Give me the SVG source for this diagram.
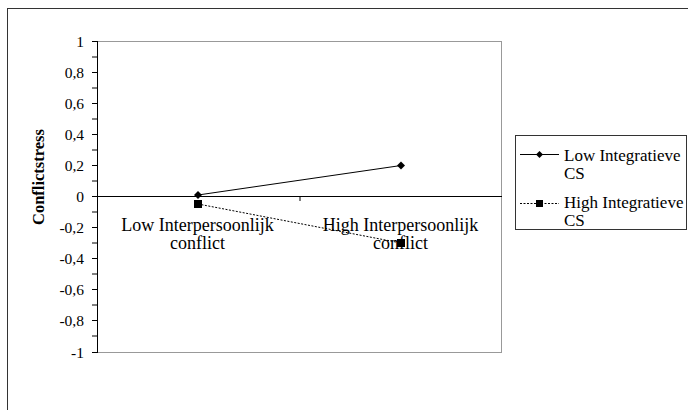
<svg xmlns="http://www.w3.org/2000/svg" width="688" height="410" viewBox="0 0 688 410">
<style>
text{font-family:"Liberation Serif","Times New Roman",serif;fill:#000;}
.tk{font-size:15.5px;text-anchor:end;}
.cat{font-size:18px;text-anchor:middle;}
.lg{font-size:17px;}
.ax{stroke:#000;stroke-width:1;fill:none;}
</style>
<rect x="0" y="0" width="688" height="410" fill="#fff"/>
<rect x="7.5" y="8.5" width="700" height="420" fill="none" stroke="#333" stroke-width="1"/>
<g id="plot">
<rect x="97.5" y="41.5" width="404" height="311" fill="none" stroke="#999" stroke-width="1"/>
<line class="ax" x1="97.5" y1="41" x2="97.5" y2="353"/>
<line class="ax" x1="97" y1="196.5" x2="502" y2="196.5"/>
<line class="ax" x1="300" y1="196.5" x2="300" y2="201"/>
<path d="M92 41.5H97.5M92 57H97.5M92 72.5H97.5M92 88H97.5M92 103.5H97.5M92 119H97.5M92 134.5H97.5M92 150H97.5M92 165.5H97.5M92 181H97.5M92 196.5H97.5M92 212H97.5M92 227.5H97.5M92 243H97.5M92 258.5H97.5M92 274H97.5M92 289.5H97.5M92 305H97.5M92 320.5H97.5M92 336H97.5M92 352.5H97.5" stroke="#000" fill="none"/>
<g class="tk">
<text x="84" y="47">1</text>
<text x="84" y="78">0,8</text>
<text x="84" y="109">0,6</text>
<text x="84" y="140">0,4</text>
<text x="84" y="171">0,2</text>
<text x="84" y="202">0</text>
<text x="84" y="233">-0,2</text>
<text x="84" y="264">-0,4</text>
<text x="84" y="295">-0,6</text>
<text x="84" y="326">-0,8</text>
<text x="84" y="358">-1</text>
</g>
<text x="44" y="177" transform="rotate(-90 44 177)" font-size="16.5" font-weight="bold" text-anchor="middle">Conflictstress</text>
<g class="cat">
<text x="197.5" y="230.5">Low Interpersoonlijk</text>
<text x="197.5" y="249">conflict</text>
<text x="400.5" y="230.5">High Interpersoonlijk</text>
<text x="400.5" y="249">conflict</text>
</g>
</g>
<g id="connectors">
<line x1="198" y1="195" x2="401" y2="165.5" stroke="#000" stroke-width="1"/>
<line x1="198" y1="204" x2="401" y2="243" stroke="#000" stroke-width="1" stroke-dasharray="2,1.5"/>
</g>
<g id="low-series">
<path d="M198 191L202 195L198 199L194 195Z" fill="#000"/>
<path d="M401 161.5L405 165.5L401 169.5L397 165.5Z" fill="#000"/>
</g>
<g id="high-series">
<rect x="194" y="200" width="8" height="8" fill="#000"/>
<rect x="397" y="239" width="8" height="8" fill="#000"/>
</g>
<g id="legend">
<rect x="515.5" y="135.5" width="171" height="94" fill="#fff" stroke="#333" stroke-width="1"/>
<line x1="520" y1="154.5" x2="559" y2="154.5" stroke="#000"/>
<path d="M539.5 151L543 154.5L539.5 158L536 154.5Z" fill="#000"/>
<line x1="520" y1="203.5" x2="559" y2="203.5" stroke="#000" stroke-dasharray="2,1.5"/>
<rect x="536" y="200" width="7" height="7" fill="#000"/>
<text class="lg" x="564" y="160.5">Low Integratieve</text>
<text class="lg" x="564" y="179">CS</text>
<text class="lg" x="564" y="208">High Integratieve</text>
<text class="lg" x="564" y="226">CS</text>
</g>
</svg>
